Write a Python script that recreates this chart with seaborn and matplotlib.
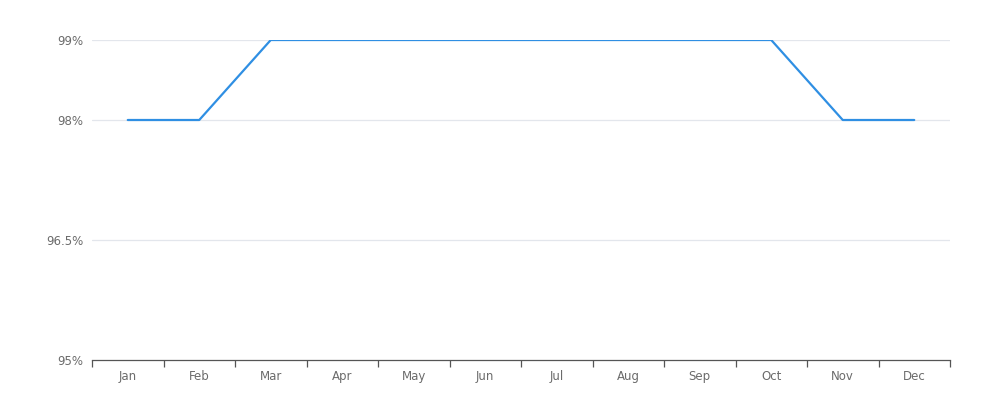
import numpy as np
import pandas as pd
import seaborn as sns
import matplotlib.pyplot as plt
from matplotlib.ticker import FixedLocator

months = ["Jan", "Feb", "Mar", "Apr", "May", "Jun", "Jul", "Aug", "Sep", "Oct", "Nov", "Dec"]
values = [98, 98, 99, 99, 99, 99, 99, 99, 99, 99, 98, 98]
y_ticks = [95, 96.5, 98, 99]
y_labels = ["95%", "96.5%", "98%", "99%"]

df = pd.DataFrame({"month": months, "value": values})

sns.set_style("white")
plt.rcParams["font.family"] = ["DejaVu Sans"]
fig = plt.figure(figsize=(10, 4), dpi=100)
ax = fig.add_axes([0.092, 0.1, 0.858, 0.8])

# gridlines behind the line
for yv in y_ticks[1:]:
    ax.axhline(yv, color="#e3e6ec", lw=0.9, zorder=0)

sns.lineplot(data=df, x="month", y="value", ax=ax, color="#2f8fe3", lw=1.6,
             sort=False, zorder=3)

ax.set_xlim(-0.5, 11.5)
ax.set_ylim(95, 99)
ax.set_yticks(y_ticks)
ax.set_yticklabels(y_labels)
ax.set_xticks(range(len(months)))
ax.set_xticklabels(months)
ax.xaxis.set_minor_locator(FixedLocator(np.arange(-0.5, 12, 1)))

ax.tick_params(axis="x", which="major", bottom=True, length=0, pad=7, labelsize=8.5, labelcolor="#6b6b6b")
ax.tick_params(axis="x", which="minor", bottom=True, length=5, width=0.9, color="#555555", direction="out")
ax.tick_params(axis="y", length=0, pad=6, labelsize=8.5, labelcolor="#6b6b6b")

for s in ["top", "right", "left"]:
    ax.spines[s].set_visible(False)
ax.spines["bottom"].set_color("#555555")
ax.spines["bottom"].set_linewidth(0.9)
ax.set_xlabel("")
ax.set_ylabel("")

fig.savefig("out.png", dpi=100)
